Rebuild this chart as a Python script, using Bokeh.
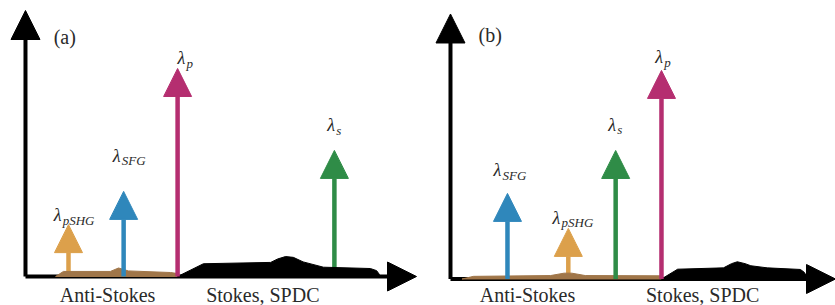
from bokeh.plotting import figure
from bokeh.models import ColumnDataSource, Arrow, NormalHead, Range1d
from bokeh.layouts import row
from bokeh.core.properties import value
from bokeh.embed import file_html
from bokeh.resources import INLINE

# ---------------- data ----------------
panel_tags = ["(a)", "(b)"]
region_names = ["Anti-Stokes", "Stokes, SPDC"]
line_names = ["pSHG", "SFG", "p", "s"]

# panel (a): spectral position / relative height of each line
a_pos = [1.10, 2.51, 3.89, 7.90]
a_height = [1.95, 3.20, 7.82, 4.74]
a_label_x = [0.72, 2.23, 3.89, 7.72]
a_label_y = [2.11, 4.36, 8.01, 5.49]
a_region_x = [2.10, 6.07]
a_region_y = [-0.90, -0.90]
a_tag_xy = [0.72, 8.83]

# panel (b)
b_pos = [3.06, 1.48, 5.48, 4.29]
b_height = [1.91, 3.23, 7.87, 4.85]
b_label_x = [2.65, 1.12, 5.32, 4.10]
b_label_y = [2.13, 3.91, 8.17, 5.64]
b_region_x = [2.00, 6.55]
b_region_y = [-0.81, -0.81]
b_tag_xy = [0.73, 9.0]

# broadband anti-Stokes (brown) and Stokes/SPDC (black) spectra
a_as_x = [0.77, 0.97, 2.17, 2.38, 2.63, 3.71, 3.89, 3.89]
a_as_y = [0.00, 0.19, 0.19, 0.32, 0.21, 0.15, 0.11, 0.00]
a_st_x = [3.89, 4.55, 6.27, 6.45, 6.65, 6.85, 7.10, 7.62, 8.82, 8.98, 9.05, 9.05]
a_st_y = [0.00, 0.48, 0.53, 0.66, 0.75, 0.72, 0.55, 0.35, 0.30, 0.22, 0.08, 0.00]

b_as_x = [0.30, 0.60, 2.60, 2.95, 3.15, 3.50, 5.48, 5.48]
b_as_y = [0.00, 0.10, 0.13, 0.22, 0.22, 0.13, 0.12, 0.00]
b_st_x = [5.48, 5.90, 7.09, 7.30, 7.45, 7.65, 7.80, 8.23, 9.09, 9.19, 9.25, 9.25]
b_st_y = [0.00, 0.37, 0.42, 0.58, 0.65, 0.58, 0.50, 0.42, 0.36, 0.25, 0.10, 0.00]

axis_len = 10.0

# ---------------- styles ----------------
COLORS = {"pSHG": "#DCA04B", "SFG": "#2F87BB", "p": "#B52E70", "s": "#2F8C47"}
BROWN = "#A07649"
TEXT = "#2a2a2a"
SERIF = "Liberation Serif"
TEXT_SHIFT = -5  # px, lifts text to sit on its baseline like the reference


def make_panel(width, xr, yr, pos, height, lab_x, lab_y, as_x, as_y, st_x, st_y,
               reg_x, reg_y, tag_xy, tag, under):
    p = figure(width=width, height=305, output_backend="svg", toolbar_location=None,
               x_range=Range1d(*xr), y_range=Range1d(*yr),
               x_axis_location=None, y_axis_location=None, min_border=0)
    p.grid.visible = False
    p.outline_line_color = None
    p.background_fill_color = "white"
    p.border_fill_color = "white"

    # axes drawn as arrows
    for (x0, y0, x1, y1) in [(0, 0, 0, axis_len), (0, 0, axis_len, 0)]:
        p.add_layout(Arrow(x_start=x0, y_start=y0, x_end=x1, y_end=y1,
                           line_width=4, line_color="black", level="underlay",
                           end=NormalHead(size=29, fill_color="black", line_color="black")))

    p.patch(as_x, as_y, fill_color=BROWN, line_color=BROWN, line_width=1)
    p.patch(st_x, st_y, fill_color="black", line_color="black", line_width=1)

    for name, x, h in zip(line_names, pos, height):
        c = COLORS[name]
        p.add_layout(Arrow(x_start=x, y_start=0, x_end=x, y_end=h,
                           line_width=4.5, line_color=c,
                           level="underlay" if name in under else "annotation",
                           end=NormalHead(size=28, fill_color=c, line_color=c)))

    src = ColumnDataSource(dict(x=lab_x, y=lab_y, sub=line_names,
                                lam=["λ"] * len(line_names)))
    p.text("x", "y", text="lam", source=src, text_font=value(SERIF),
           text_font_style="italic", text_font_size="18px", text_color=TEXT,
           text_align="left", text_baseline="alphabetic", y_offset=TEXT_SHIFT)
    p.text("x", "y", text="sub", source=src, text_font=value(SERIF),
           text_font_style="italic", text_font_size="13px", text_color=TEXT,
           text_align="left", text_baseline="alphabetic", x_offset=9,
           y_offset=TEXT_SHIFT + 5)

    p.text(reg_x, reg_y, text=region_names, text_font=value(SERIF),
           text_font_size="20px", text_color=TEXT, text_align="center",
           text_baseline="alphabetic", y_offset=TEXT_SHIFT)
    p.text([tag_xy[0]], [tag_xy[1]], text=[tag], text_font=value(SERIF),
           text_font_size="20px", text_color=TEXT, text_align="left",
           text_baseline="alphabetic", y_offset=TEXT_SHIFT)
    return p


pa = make_panel(420, (-0.639, 10.102), (-1.090, 10.376), a_pos, a_height, a_label_x,
                a_label_y, a_as_x, a_as_y, a_st_x, a_st_y, a_region_x, a_region_y,
                a_tag_xy, panel_tags[0], under={"pSHG", "s"})
pb = make_panel(415, (-0.779, 10.0), (-1.0, 10.509), b_pos, b_height, b_label_x,
                b_label_y, b_as_x, b_as_y, b_st_x, b_st_y, b_region_x, b_region_y,
                b_tag_xy, panel_tags[1], under={"pSHG"})

layout = row(pa, pb, spacing=0)
open("out.html", "w").write(file_html(layout, INLINE))
